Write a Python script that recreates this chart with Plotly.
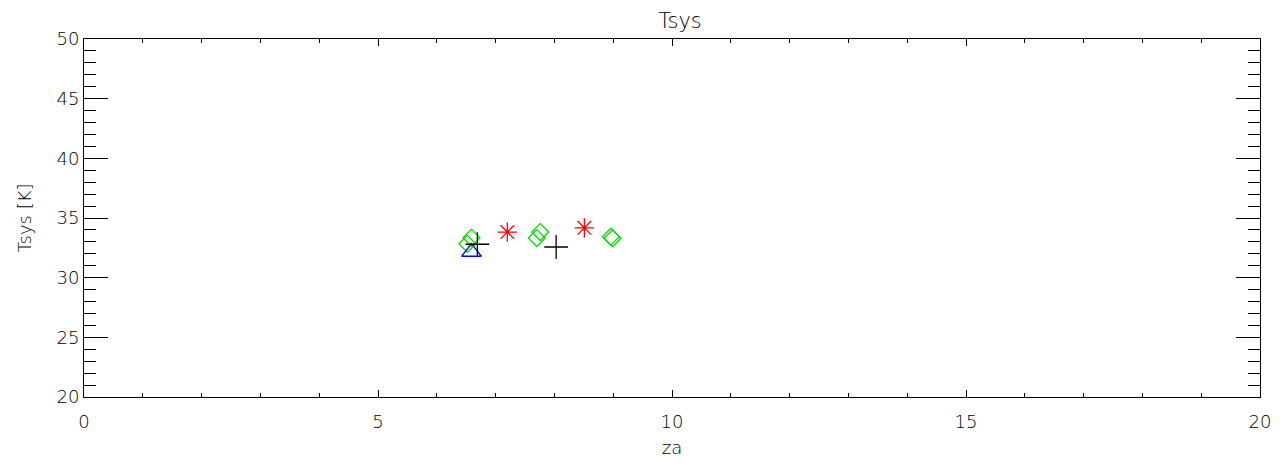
import plotly.graph_objects as go

# Data
diamond_x = [6.52, 6.59, 7.70, 7.76, 8.96, 8.99]
diamond_y = [32.84, 33.34, 33.32, 33.82, 33.43, 33.30]
triangle_x = [6.59]
triangle_y = [32.15]
plus_x = [6.69, 8.03]
plus_y = [32.80, 32.57]
star_x = [7.20, 8.51]
star_y = [33.82, 34.18]

FONT = "DejaVu Sans"
TXT = "#000000"
W = 200

fig = go.Figure()
fig.add_trace(go.Scatter(x=diamond_x, y=diamond_y, mode="markers",
                         marker=dict(symbol="diamond-open", size=13, color="#00dd00",
                                     line=dict(width=1.3, color="#00dd00"))))
fig.add_trace(go.Scatter(x=triangle_x, y=triangle_y, mode="markers",
                         marker=dict(symbol="triangle-up-open", size=17, color="#0000ff",
                                     line=dict(width=1.3, color="#0000ff"))))
fig.add_trace(go.Scatter(x=plus_x, y=plus_y, mode="markers",
                         marker=dict(symbol="cross-thin-open", size=17, color="#000000",
                                     line=dict(width=1.3, color="#000000"))))
fig.add_trace(go.Scatter(x=star_x, y=star_y, mode="markers",
                         marker=dict(symbol="asterisk-open", size=16, color="#ff0000",
                                     line=dict(width=1.3, color="#ff0000"))))

axis_common = dict(showgrid=False, zeroline=False, showline=True, linecolor="black",
                   linewidth=1, mirror="allticks", ticks="inside", tickcolor="black",
                   tickwidth=1, tickfont=dict(family=FONT, size=18, color=TXT, weight=W))

fig.update_xaxes(range=[0, 20], tick0=0, dtick=5, ticklen=7, ticklabelstandoff=8,
                 minor=dict(dtick=1, ticks="inside", ticklen=4, tickcolor="black", tickwidth=1),
                 title=dict(text="za", font=dict(family=FONT, size=18, color=TXT, weight=W), standoff=10),
                 **axis_common)
fig.update_yaxes(range=[20, 50], tick0=20, dtick=5, ticklen=24,
                 minor=dict(dtick=1, ticks="inside", ticklen=12, tickcolor="black", tickwidth=1),
                 title=dict(text="Tsys [K]", font=dict(family=FONT, size=18, color=TXT, weight=W), standoff=20),
                 **axis_common)

fig.update_layout(
    width=1283, height=466,
    margin=dict(l=84, r=20, t=39, b=67),
    paper_bgcolor="white", plot_bgcolor="white",
    showlegend=False,
    title=dict(text="Tsys", x=0.53, xanchor="center", y=0.955, yanchor="middle",
               font=dict(family=FONT, size=21, color=TXT, weight=W)),
)

fig.write_html("out.html", config={"displayModeBar": False},
               post_script="document.body.style.margin='0';document.body.style.overflow='hidden';")
